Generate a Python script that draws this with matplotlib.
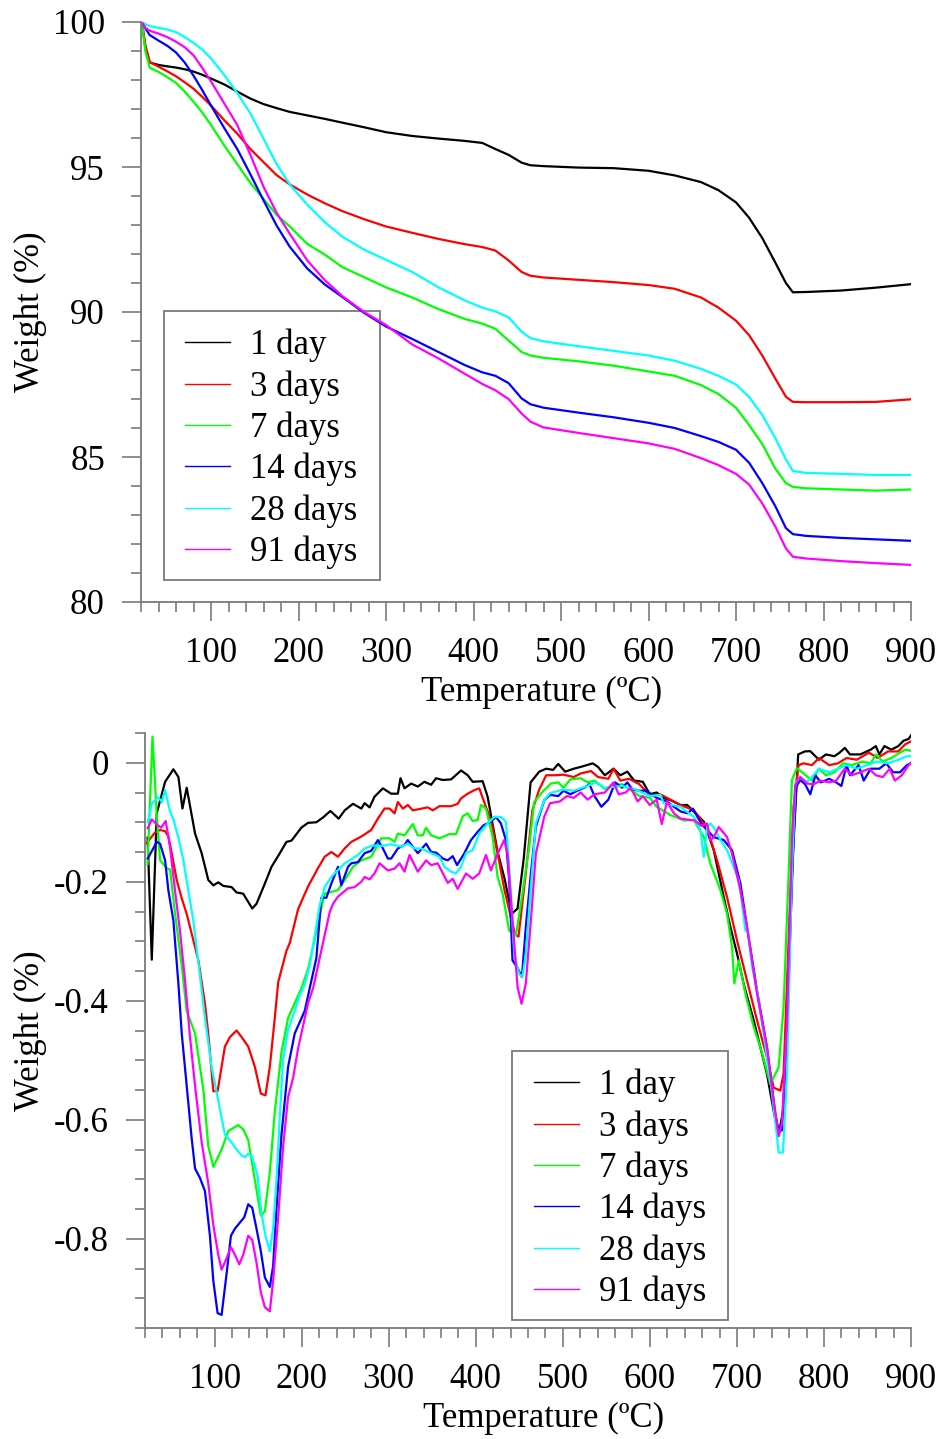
import matplotlib
matplotlib.use("Agg")
import matplotlib.pyplot as plt
from matplotlib.ticker import MultipleLocator, FixedLocator, FixedFormatter
from matplotlib.lines import Line2D
from matplotlib.patches import Rectangle

plt.rcParams['font.family'] = ['Liberation Serif', 'DejaVu Serif']
plt.rcParams['axes.unicode_minus'] = False

labels = ["1 day", "3 days", "7 days", "14 days", "28 days", "91 days"]
colors = ["#000000", "#ff0000", "#00ff00", "#0000ff", "#00ffff", "#ff00ff"]

# ---- TG curves: residual weight (%) vs temperature (ºC) ----
tg_temp = [21, 25, 30, 40, 50, 60, 70, 80, 90, 100, 115, 130, 145, 160, 175, 190,
           210, 230, 250, 275, 300, 330, 360, 390, 410, 425, 440, 455, 465, 480,
           520, 560, 600, 630, 660, 680, 700, 715, 730, 745, 757, 765, 780, 820,
           860, 900]
tg_1d = [100, 99.1, 98.6, 98.52, 98.47, 98.43, 98.37, 98.29, 98.18, 98.05, 97.85,
         97.6, 97.36, 97.17, 97.03, 96.9, 96.78, 96.66, 96.53, 96.37, 96.2, 96.07,
         95.98, 95.9, 95.83, 95.62, 95.42, 95.15, 95.06, 95.03, 94.98, 94.96, 94.87,
         94.71, 94.48, 94.2, 93.78, 93.25, 92.55, 91.7, 91.0, 90.68, 90.69, 90.74,
         90.84, 90.96]
tg_3d = [100, 99.2, 98.62, 98.46, 98.3, 98.13, 97.92, 97.7, 97.42, 97.12, 96.62,
         96.15, 95.62, 95.17, 94.72, 94.4, 94.05, 93.75, 93.48, 93.2, 92.95, 92.73,
         92.52, 92.34, 92.24, 92.12, 91.78, 91.38, 91.25, 91.19, 91.11, 91.03, 90.93,
         90.8, 90.5, 90.15, 89.7, 89.2, 88.5, 87.7, 87.08, 86.9, 86.89, 86.89,
         86.9, 86.99]
tg_7d = [100, 99.0, 98.42, 98.28, 98.1, 97.9, 97.6, 97.25, 96.88, 96.45, 95.75,
         95.1, 94.45, 93.9, 93.35, 92.95, 92.35, 91.98, 91.55, 91.2, 90.85, 90.5,
         90.1, 89.76, 89.6, 89.42, 89.02, 88.62, 88.5, 88.42, 88.3, 88.15, 87.95,
         87.8, 87.48, 87.17, 86.7, 86.1, 85.45, 84.6, 84.1, 83.97, 83.92, 83.88,
         83.84, 83.88]
tg_14d = [100, 99.78, 99.55, 99.36, 99.18, 98.95, 98.6, 98.15, 97.65, 97.12, 96.35,
          95.62, 94.75, 93.85, 92.98, 92.25, 91.5, 90.95, 90.52, 89.97, 89.5, 89.07,
          88.62, 88.17, 87.92, 87.8, 87.55, 87.02, 86.82, 86.7, 86.53, 86.37, 86.18,
          86.0, 85.72, 85.52, 85.25, 84.8, 84.1, 83.3, 82.55, 82.34, 82.28, 82.21,
          82.16, 82.11]
tg_28d = [100, 99.92, 99.86, 99.8, 99.74, 99.65, 99.48, 99.28, 99.05, 98.75, 98.18,
          97.55, 96.85, 95.98, 95.1, 94.4, 93.7, 93.1, 92.6, 92.15, 91.8, 91.38,
          90.85, 90.4, 90.15, 90.02, 89.82, 89.32, 89.1, 88.99, 88.82, 88.66, 88.5,
          88.32, 88.04, 87.8, 87.5, 87.07, 86.45, 85.65, 84.92, 84.52, 84.45, 84.42,
          84.38, 84.38]
tg_91d = [100, 99.8, 99.7, 99.6, 99.48, 99.32, 99.13, 98.85, 98.42, 97.95, 97.2,
          96.45, 95.42, 94.32, 93.42, 92.7, 91.78, 91.1, 90.55, 90.0, 89.55, 88.88,
          88.4, 87.87, 87.52, 87.3, 87.0, 86.5, 86.22, 86.02, 85.83, 85.65, 85.47,
          85.28, 84.96, 84.72, 84.42, 84.05, 83.4, 82.6, 81.85, 81.56, 81.5, 81.41,
          81.34, 81.28]

# ---- DTG curves (derivative signal) vs temperature (ºC) ----
dtg_temp_1d = [23, 27.8, 33.5, 43.1, 52.6, 58.4, 63, 67.9, 77.5, 85.1, 92.7, 98.5,
               104.2, 110, 119.5, 125.2, 132.8, 143.2, 148.1, 157.7, 165.3, 174.9,
               182.5, 188.2, 199.7, 207.3, 216.9, 224.5, 233, 242.5, 249.4, 258.9,
               268.5, 272.3, 278, 283.7, 293.3, 302.8, 310.5, 313.5, 318.1, 325.8,
               333.4, 341, 348.7, 354.4, 362.1, 371.6, 383.1, 390.7, 396.4, 407.9,
               413.6, 425.1, 433.3, 441.2, 448, 455.1, 463, 472.9, 480.9, 488.8,
               494.8, 502.7, 512.6, 520.5, 534.4, 540.4, 548.3, 558.2, 566.1, 574.1,
               582, 591.9, 599.9, 607.8, 615.7, 623.8, 635.2, 642.9, 650.5, 662,
               673.4, 684.9, 692.5, 700.2, 707.8, 719.3, 726.9, 734.5, 742.2, 748,
               753.6, 759.4, 765.1, 770.4, 778, 784.3, 794.2, 802.2, 812.1, 818, 824,
               829.9, 841.8, 853.7, 859.6, 863.6, 869.5, 877.5, 885.4, 891.4, 897.3,
               900]
dtg_1d = [-0.126, -0.331, -0.085, -0.032, -0.011, -0.024, -0.077, -0.042, -0.119,
          -0.152, -0.197, -0.206, -0.201, -0.207, -0.209, -0.218, -0.22, -0.245,
          -0.237, -0.203, -0.175, -0.152, -0.133, -0.131, -0.109, -0.101, -0.1,
          -0.092, -0.081, -0.094, -0.08, -0.069, -0.077, -0.068, -0.075, -0.057,
          -0.043, -0.052, -0.052, -0.026, -0.043, -0.035, -0.04, -0.032, -0.037,
          -0.026, -0.029, -0.028, -0.013, -0.021, -0.032, -0.031, -0.057, -0.15,
          -0.196, -0.254, -0.245, -0.161, -0.033, -0.015, -0.01, -0.012, -0.002,
          -0.015, -0.01, -0.007, -0.001, -0.007, -0.021, -0.01, -0.021, -0.015,
          -0.03, -0.032, -0.053, -0.05, -0.059, -0.063, -0.071, -0.071, -0.082,
          -0.099, -0.147, -0.226, -0.276, -0.321, -0.372, -0.433, -0.478, -0.523,
          -0.585, -0.627, -0.579, -0.355, -0.13, 0.014, 0.019, 0.0195, 0.005,
          0.014, 0.011, 0.017, 0.025, 0.014, 0.014, 0.022, 0.028, 0.014, 0.028,
          0.022, 0.028, 0.037, 0.04, 0.046]

dtg_temp_3d = [22, 31.6, 37.3, 43.1, 46.9, 50.7, 56.4, 62.2, 67.9, 73.6, 81.3, 88.9,
               93, 98.5, 103.4, 111.8, 117.6, 125.2, 131, 138.6, 146.2, 153.1, 158.4,
               163.4, 169.1, 173, 182.5, 186.3, 195.9, 207.3, 218.8, 226.4, 234.1,
               241.7, 249.4, 257, 268.5, 279.9, 287.5, 295.2, 300.9, 306.7, 310.5,
               316.2, 322, 327.7, 344.9, 350.6, 358.2, 371.6, 379.2, 383, 390.7,
               398.3, 404, 411.6, 417.4, 425.1, 432.7, 440.4, 445.2, 449.1, 457.1,
               465, 472.9, 480.9, 490.8, 500.7, 512.6, 520.5, 532.4, 540.4, 552.3,
               558.2, 566.1, 576.1, 587.9, 599.9, 611.8, 623.7, 635.2, 650.5, 665.8,
               677.2, 688.7, 700.2, 711.6, 723.1, 734.5, 742.2, 749.8, 753.6, 759.4,
               765.1, 770.8, 776.6, 786.3, 794.2, 806.1, 816, 826, 837.8, 851.7,
               861.6, 873.5, 885.4, 893.3, 900]
dtg_3d = [-0.135, -0.117, -0.113, -0.115, -0.124, -0.152, -0.197, -0.228, -0.254,
          -0.287, -0.332, -0.405, -0.46, -0.552, -0.552, -0.477, -0.461, -0.45,
          -0.461, -0.477, -0.511, -0.556, -0.559, -0.511, -0.429, -0.369, -0.316,
          -0.303, -0.246, -0.208, -0.177, -0.158, -0.15, -0.158, -0.144, -0.133,
          -0.124, -0.113, -0.094, -0.077, -0.077, -0.085, -0.066, -0.077, -0.071,
          -0.08, -0.075, -0.08, -0.073, -0.073, -0.069, -0.06, -0.052, -0.046,
          -0.043, -0.074, -0.096, -0.152, -0.212, -0.26, -0.289, -0.292, -0.19,
          -0.08, -0.045, -0.021, -0.021, -0.02, -0.024, -0.018, -0.014, -0.024,
          -0.027, -0.01, -0.03, -0.027, -0.036, -0.055, -0.053, -0.062, -0.071,
          -0.08, -0.11, -0.164, -0.226, -0.299, -0.366, -0.433, -0.495, -0.546,
          -0.551, -0.523, -0.299, -0.074, -0.004, -0.001, -0.004, 0.008, -0.004,
          -0.001, 0.008, 0.005, 0.017, 0.008, 0.019, 0.019, 0.031, 0.036]

dtg_temp_7d = [23, 28.6, 33.5, 37.3, 45, 48.8, 54.5, 62.2, 67.9, 77.5, 87, 92.7,
               98.5, 108, 115.7, 127.1, 132.8, 138.6, 146.2, 153.1, 157.7, 163.4,
               169.1, 176.8, 184.4, 192, 199.7, 207.3, 215, 220.7, 226.4, 234.1,
               241.7, 249.4, 258.9, 268.5, 279.9, 291.4, 300.9, 306.7, 310.5, 318.1,
               327.7, 333.4, 339.1, 342.9, 348.7, 358.2, 369.7, 377.3, 385, 390.7,
               396.4, 402.2, 406, 411.7, 419.3, 425.1, 430.8, 438.4, 446.1, 451.8,
               461.4, 467.1, 476.6, 486.2, 494.8, 500.7, 508.6, 520.5, 528.5, 536.4,
               548.3, 556.2, 568.1, 576.1, 587.9, 599.9, 607.8, 623.7, 639.5, 650.5,
               662, 669.6, 681.1, 688.7, 694.4, 697.1, 702.1, 709.7, 719.3, 726.9,
               738.4, 747.9, 753.6, 759.4, 763.2, 768.9, 776.6, 786.3, 794.2, 802.2,
               812.1, 821.9, 831.9, 843.8, 853.7, 859.6, 867.6, 877.5, 887.4, 893.3,
               900]
dtg_7d = [-0.17, 0.044, -0.088, -0.164, -0.177, -0.18, -0.253, -0.341, -0.417,
          -0.455, -0.549, -0.644, -0.679, -0.65, -0.619, -0.609, -0.616, -0.634,
          -0.701, -0.761, -0.754, -0.688, -0.587, -0.486, -0.429, -0.404, -0.379,
          -0.347, -0.297, -0.256, -0.22, -0.217, -0.214, -0.197, -0.175, -0.164,
          -0.158, -0.127, -0.127, -0.133, -0.119, -0.122, -0.103, -0.122, -0.122,
          -0.109, -0.122, -0.127, -0.12, -0.12, -0.09, -0.085, -0.098, -0.096,
          -0.071, -0.077, -0.124, -0.192, -0.22, -0.282, -0.29, -0.237, -0.141,
          -0.066, -0.049, -0.035, -0.033, -0.042, -0.028, -0.026, -0.033, -0.03,
          -0.044, -0.039, -0.036, -0.044, -0.056, -0.059, -0.074, -0.088, -0.097,
          -0.096, -0.125, -0.17, -0.214, -0.254, -0.31, -0.371, -0.332, -0.388,
          -0.444, -0.478, -0.54, -0.512, -0.411, -0.186, -0.029, -0.009, -0.018,
          -0.03, -0.01, -0.021, -0.016, -0.001, -0.004, 0.002, -0.001, 0.014,
          0.002, 0.008, 0.017, 0.022, 0.02]

dtg_temp_14d = [23.2, 33.5, 37.3, 43.1, 46.9, 52.6, 58.4, 62.2, 67.9, 73.6, 77.5,
                83.2, 88.9, 94.6, 98.5, 103.4, 108, 113.7, 118.7, 123.3, 129, 134,
                138.6, 143.2, 148.1, 153.1, 157.7, 163.4, 167.2, 171, 176.8, 184.4,
                192, 197.8, 203.5, 211.2, 216.9, 222.6, 228.3, 234.1, 241.7, 245.5,
                253.2, 257, 264.6, 272.3, 279.9, 287.5, 293.3, 299, 302.8, 310.5,
                318.1, 321.9, 327.7, 333.4, 343, 348.7, 354.4, 362.1, 367.8, 373.5,
                378.5, 386.9, 394.5, 402.2, 409.1, 417.4, 423.1, 428.9, 434.6, 438.4,
                442.2, 448, 453, 457.5, 463.3, 469, 478.6, 485.4, 494.8, 500.7, 508.6,
                516.6, 524.5, 530.5, 536.4, 544.3, 552.3, 560.2, 568.1, 574.1, 580,
                587.9, 595.9, 607.8, 619.7, 627.6, 635.5, 643.5, 649.4, 659.3, 673.4,
                684.9, 694.4, 704, 711.6, 723.1, 734.5, 744.1, 748, 751.7, 757.5,
                763.2, 768.2, 772.7, 778.3, 784.3, 790.2, 796.2, 806.1, 814, 820, 826,
                829.9, 839.8, 845.7, 853.7, 863.6, 871.5, 879.5, 887.4, 895.3, 900]
dtg_14d = [-0.161, -0.133, -0.136, -0.164, -0.215, -0.265, -0.372, -0.455, -0.543,
           -0.631, -0.682, -0.698, -0.72, -0.795, -0.871, -0.925, -0.928, -0.859,
           -0.795, -0.783, -0.773, -0.764, -0.742, -0.748, -0.783, -0.821, -0.865,
           -0.881, -0.846, -0.751, -0.625, -0.511, -0.455, -0.436, -0.417, -0.366,
           -0.328, -0.227, -0.227, -0.203, -0.175, -0.206, -0.175, -0.169, -0.167,
           -0.152, -0.148, -0.13, -0.144, -0.161, -0.161, -0.144, -0.138, -0.13,
           -0.141, -0.152, -0.136, -0.15, -0.151, -0.161, -0.164, -0.157, -0.172,
           -0.152, -0.13, -0.116, -0.105, -0.099, -0.091, -0.102, -0.13, -0.197,
           -0.332, -0.345, -0.36, -0.276, -0.186, -0.108, -0.063, -0.054, -0.056,
           -0.047, -0.053, -0.047, -0.042, -0.036, -0.056, -0.074, -0.062, -0.033,
           -0.042, -0.033, -0.045, -0.047, -0.047, -0.059, -0.065, -0.074, -0.082,
           -0.085, -0.077, -0.103, -0.125, -0.13, -0.147, -0.203, -0.276, -0.383,
           -0.478, -0.59, -0.618, -0.618, -0.467, -0.186, -0.04, -0.029, -0.036,
           -0.053, -0.021, -0.033, -0.027, -0.033, -0.039, -0.004, -0.021, -0.004,
           -0.03, -0.01, -0.01, -0.001, -0.016, -0.016, -0.004, -0.001]

dtg_temp_28d = [23.2, 27.8, 31.6, 35.4, 39.3, 43.1, 48.8, 52.6, 58.4, 64.1, 69.8,
                75.5, 81.3, 88.9, 96.5, 104.2, 111.8, 119.5, 125.2, 131, 134.8, 138.6,
                143.2, 149.3, 153.9, 158.4, 163.4, 167.2, 171, 174.9, 178.7, 184.4,
                192, 197.8, 203.5, 209.2, 215, 220.7, 226.4, 234.1, 239.8, 245.5,
                249.4, 255.1, 264.6, 272.3, 281.8, 291.4, 302.8, 314.3, 322, 329.6,
                337.2, 348.7, 358.2, 363.9, 371.6, 377.3, 383.1, 388.8, 396.4, 404,
                413.6, 421.2, 428.9, 434.6, 438.4, 444.2, 449.9, 453.7, 457.5, 463.3,
                469, 478.6, 485.4, 500.7, 512.6, 528.5, 536.4, 548.3, 568.1, 584,
                599.9, 612.3, 615.7, 635.2, 650.5, 658.1, 662, 665.8, 669.6, 675.3,
                681.1, 688.7, 696.3, 702.1, 705.9, 709.7, 712.4, 717.4, 723.1, 730.7,
                738.4, 744.1, 748, 752.9, 757.5, 763.2, 767, 772.7, 780.4, 786.3,
                794.2, 806.1, 816, 826, 837.8, 849.7, 861.6, 873.5, 885.4, 895.3, 900]
dtg_28d = [-0.1, -0.069, -0.063, -0.058, -0.066, -0.046, -0.082, -0.095, -0.126,
           -0.164, -0.215, -0.265, -0.335, -0.429, -0.511, -0.568, -0.625, -0.638,
           -0.65, -0.66, -0.663, -0.657, -0.663, -0.694, -0.758, -0.795, -0.821,
           -0.783, -0.701, -0.593, -0.499, -0.448, -0.417, -0.391, -0.372, -0.341,
           -0.29, -0.24, -0.209, -0.192, -0.183, -0.175, -0.169, -0.164, -0.155,
           -0.144, -0.139, -0.14, -0.137, -0.141, -0.136, -0.144, -0.144, -0.152,
           -0.158, -0.175, -0.183, -0.186, -0.175, -0.152, -0.147, -0.119, -0.102,
           -0.091, -0.091, -0.099, -0.175, -0.321, -0.355, -0.36, -0.321, -0.209,
           -0.102, -0.063, -0.051, -0.045, -0.047, -0.039, -0.033, -0.042, -0.039,
           -0.045, -0.056, -0.054, -0.068, -0.074, -0.091, -0.113, -0.158, -0.108,
           -0.102, -0.113, -0.13, -0.147, -0.175, -0.198, -0.237, -0.282, -0.279,
           -0.343, -0.383, -0.456, -0.534, -0.602, -0.655, -0.655, -0.523, -0.186,
           -0.035, -0.024, -0.032, -0.024, -0.01, -0.016, -0.01, -0.004, -0.01,
           -0.004, 0.002, -0.001, 0.005, 0.011, 0.011]

dtg_temp_91d = [23.2, 27.8, 33.5, 38.5, 43.8, 48.8, 54.5, 60.3, 66, 71.7, 77.5, 85.1,
                92.7, 98.5, 104.2, 108, 113.7, 118.7, 123.3, 128.3, 132.8, 138.6,
                143.2, 148.1, 153.1, 157.7, 163.4, 167.2, 173, 178.7, 184.4, 190.1,
                195.9, 201.6, 207.3, 213.1, 218.8, 226.4, 232.2, 236, 241.7, 253.2,
                260.8, 268.5, 272.3, 278, 283.7, 289.5, 299, 306.7, 312.4, 318.1,
                323.9, 333.4, 343, 348.7, 356.3, 367.8, 373.5, 379.2, 388.8, 396.4,
                404, 411.7, 417.4, 425.1, 432.7, 436.5, 442.2, 448, 452.6, 457.5,
                463.3, 469, 478.6, 485.4, 496.7, 504.7, 512.6, 520.5, 528.5, 536.4,
                548.3, 558.2, 564.2, 572.1, 578.1, 586, 591.9, 599.9, 607.8, 613.7,
                619.7, 627.6, 635.5, 651.4, 659.3, 665.8, 669.6, 673.4, 679.2, 688.7,
                694.4, 704, 711.6, 723.1, 734.5, 742.2, 748, 751.7, 757.5, 763.2, 767,
                772.7, 780.4, 788.3, 796.2, 806.1, 814, 823.9, 831.9, 841.8, 851.7,
                859.6, 867.6, 875.5, 881.5, 889.4, 897.3, 900]
dtg_91d = [-0.11, -0.095, -0.104, -0.109, -0.098, -0.142, -0.215, -0.284, -0.366,
           -0.461, -0.543, -0.638, -0.707, -0.777, -0.827, -0.852, -0.833, -0.814,
           -0.827, -0.843, -0.827, -0.795, -0.802, -0.84, -0.89, -0.915, -0.922,
           -0.871, -0.764, -0.644, -0.562, -0.53, -0.48, -0.442, -0.404, -0.379,
           -0.341, -0.29, -0.251, -0.237, -0.225, -0.211, -0.209, -0.2, -0.192,
           -0.196, -0.186, -0.169, -0.181, -0.178, -0.169, -0.183, -0.155, -0.183,
           -0.164, -0.172, -0.169, -0.202, -0.195, -0.212, -0.186, -0.195, -0.186,
           -0.155, -0.181, -0.153, -0.13, -0.153, -0.265, -0.377, -0.405, -0.371,
           -0.265, -0.153, -0.091, -0.068, -0.065, -0.056, -0.059, -0.05, -0.062,
           -0.053, -0.05, -0.033, -0.053, -0.05, -0.042, -0.065, -0.056, -0.071,
           -0.062, -0.103, -0.065, -0.085, -0.094, -0.097, -0.106, -0.102, -0.13,
           -0.125, -0.108, -0.125, -0.153, -0.214, -0.276, -0.388, -0.478, -0.568,
           -0.627, -0.607, -0.439, -0.13, -0.038, -0.024, -0.035, -0.036, -0.03,
           -0.033, -0.03, -0.01, -0.021, -0.016, -0.01, -0.021, -0.024, -0.01,
           -0.03, -0.021, -0.004, 0.0]

tg_series = [tg_1d, tg_3d, tg_7d, tg_14d, tg_28d, tg_91d]
dtg_series = [(dtg_temp_1d, dtg_1d), (dtg_temp_3d, dtg_3d), (dtg_temp_7d, dtg_7d),
              (dtg_temp_14d, dtg_14d), (dtg_temp_28d, dtg_28d), (dtg_temp_91d, dtg_91d)]

FS = 25
AXIS_GREY = "#7a7a7a"
W, H = 943, 1439

fig = plt.figure(figsize=(W / 100, H / 100), dpi=100)
ax_tg = fig.add_axes([141 / W, 1 - 602 / H, 770 / W, 580 / H])
ax_dtg = fig.add_axes([145 / W, 1 - 1328 / H, 766 / W, 595 / H])


def style_axes(ax):
    for side in ("top", "right"):
        ax.spines[side].set_visible(False)
    for side in ("left", "bottom"):
        ax.spines[side].set_color(AXIS_GREY)
        ax.spines[side].set_linewidth(1.3)
    ax.tick_params(which="major", direction="out", length=14, width=1.2,
                   color=AXIS_GREY, labelsize=FS)
    ax.tick_params(which="minor", direction="out", length=7, width=1.2,
                   color=AXIS_GREY)
    ax.tick_params(axis="x", which="major", pad=11)
    ax.tick_params(axis="y", which="major", pad=12)
    ax.set_xlim(20, 900)
    ax.xaxis.set_major_locator(MultipleLocator(100))
    ax.xaxis.set_minor_locator(MultipleLocator(20))
    ax.set_xlabel("Temperature (ºC)", fontsize=FS, va="center")
    ax.set_ylabel("Weight (%)", fontsize=FS, va="center")


def add_legend(ax, box_px, first_row_px):
    """Legend entries without frame; the frame is a separate rectangle (pixel box)."""
    x0, y0, x1, y1 = box_px
    ax.add_patch(Rectangle((x0 / W, 1 - y1 / H), (x1 - x0) / W, (y1 - y0) / H,
                           transform=fig.transFigure, facecolor="none",
                           edgecolor=AXIS_GREY, lw=1.3, zorder=1.5, clip_on=False))
    lx, ly = first_row_px
    handles = [Line2D([], [], color=c, lw=1.0) for c in colors]
    leg = ax.legend(handles, labels, loc="upper left",
                    bbox_to_anchor=(lx / W, 1 - ly / H),
                    bbox_transform=fig.transFigure, borderaxespad=0,
                    frameon=False, fontsize=FS, handlelength=1.3,
                    handletextpad=0.58, labelspacing=0.225, borderpad=0)
    leg.set_zorder(5)
    return leg


# Top panel: TG
for vals, c in zip(tg_series, colors):
    ax_tg.plot(tg_temp, vals, color=c, lw=1.6, zorder=2)
style_axes(ax_tg)
ax_tg.set_ylim(80, 100)
ax_tg.yaxis.set_major_locator(MultipleLocator(5))
ax_tg.yaxis.set_minor_locator(MultipleLocator(1))
ax_tg.yaxis.set_label_coords((30 - 141) / 770, 0.5)
ax_tg.xaxis.set_label_coords((542 - 141) / 770, -(692 - 602) / 580)
add_legend(ax_tg, (164, 311, 380, 580), (185, 329))

# Bottom panel: DTG
for (t, v), c in zip(dtg_series, colors):
    ax_dtg.plot(t, v, color=c, lw=1.6, zorder=2)
style_axes(ax_dtg)
ax_dtg.set_ylim(-0.95, 0.05)
ax_dtg.yaxis.set_major_locator(FixedLocator([0, -0.2, -0.4, -0.6, -0.8]))
ax_dtg.yaxis.set_major_formatter(FixedFormatter(["0", "-0.2", "-0.4", "-0.6", "-0.8"]))
ax_dtg.yaxis.set_minor_locator(MultipleLocator(0.05))
ax_dtg.yaxis.set_label_coords((30 - 145) / 766, 0.5)
ax_dtg.xaxis.set_label_coords((544 - 145) / 766, -(1418 - 1328) / 595)
add_legend(ax_dtg, (512, 1051, 728, 1320), (534, 1069))

fig.savefig("out.png", dpi=100)
